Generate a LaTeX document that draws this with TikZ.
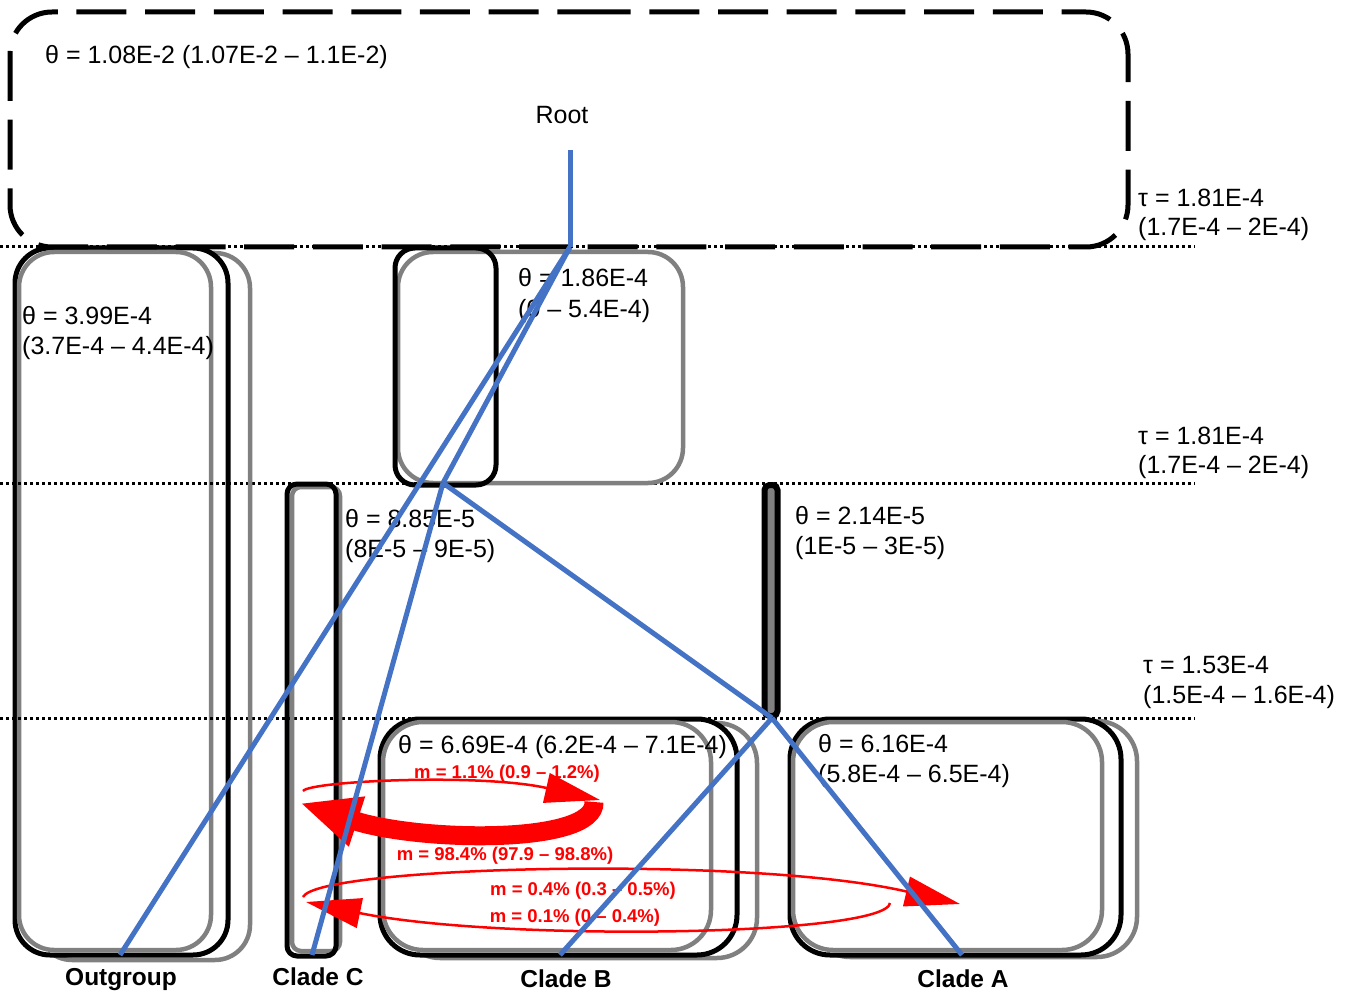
\documentclass[tikz,border=0pt]{standalone}
\usepackage{fontspec}
\setmainfont{Liberation Sans}
\usetikzlibrary{arrows.meta}
\definecolor{tblue}{HTML}{4472C4}
\definecolor{tgray}{HTML}{808080}
\definecolor{tred}{HTML}{FF0000}
\begin{document}
\begin{tikzpicture}[x=1pt,y=-1pt,
 dotline/.style={line width=3pt, dash pattern=on 3pt off 3pt, black},
 blk/.style={line width=5pt, black},
 gry/.style={line width=4.5pt, tgray},
 bline/.style={line width=5pt, tblue},
 lab/.style={font=\fontsize{25}{30}\selectfont, inner sep=0pt, anchor=base west},
 clab/.style={font=\fontsize{24.5}{29}\selectfont\bfseries, inner sep=0pt, anchor=base},
 mlab/.style={font=\fontsize{18.5}{22}\selectfont\bfseries, text=tred, inner sep=0pt, anchor=base},
 mthin/.style={line width=2.5pt, tred, -{Triangle[length=55pt,width=30pt]}},
 mthick/.style={line width=19pt, tred, -{Triangle[length=60pt,width=48pt]}},
]
\useasboundingbox (0,0) rectangle (1347,992);

% dotted time lines
\coordinate (dla) at (0,247);  \coordinate (dra) at (1195,247);
\coordinate (dlb) at (0,483);  \coordinate (drb) at (1195,483);
\coordinate (dlc) at (0,718);  \coordinate (drc) at (1195,718);
\draw[dotline] (dla) -- (dra);
\draw[dotline] (dlb) -- (drb);
\draw[dotline] (dlc) -- (drc);

% Outgroup boxes
\draw[gry, rounded corners=35pt] (37,253) rectangle (250,960);
\draw[blk, fill=white, rounded corners=35pt] (15,248) rectangle (228,955);
\draw[gry, rounded corners=35pt] (19,252) rectangle (211,950);
\coordinate (ogl1) at (18,483); \coordinate (ogr1) at (225,483);
\coordinate (ogl2) at (18,718); \coordinate (ogr2) at (225,718);
\draw[dotline] (ogl1) -- (ogr1);
\draw[dotline] (ogl2) -- (ogr2);

% B/C ancestor boxes
\draw[gry, rounded corners=35pt] (398,252) rectangle (683,483);
\draw[blk, rounded corners=20pt] (395,248) rectangle (496,485);

% Clade C boxes
\draw[gry, rounded corners=9pt] (292,487) rectangle (340,951);
\draw[blk, rounded corners=10pt] (287,484) rectangle (336,956);

% A/B ancestor bar
\draw[line width=6pt, black, fill=tgray, rounded corners=5pt] (764.5,485) rectangle (777.5,716);

% Clade B boxes
\draw[gry, rounded corners=40pt] (400,723) rectangle (757,958);
\draw[blk, fill=white, rounded corners=40pt] (380,719) rectangle (737,955);
\draw[gry, rounded corners=40pt] (383,722) rectangle (711,950);

% Clade A boxes
\draw[gry, rounded corners=40pt] (810,721) rectangle (1137,957);
\draw[blk, fill=white, rounded corners=40pt] (790,719) rectangle (1121,955);
\draw[gry, rounded corners=40pt] (793,722) rectangle (1102,950);

% Root population dashed box
\draw[line width=5pt, dash pattern=on 50pt off 18.7pt, dash phase=21.4pt, rounded corners=42pt]
  (560,12) -- (1128,12) -- (1128,247) -- (10,247) -- (10,12) -- cycle;

% migration arrows
\coordinate (a1s) at (303,791);  \coordinate (a1e) at (600,800);
\coordinate (a2s) at (594,802);  \coordinate (a2e) at (300,803);
\coordinate (a3s) at (303,897);  \coordinate (a3e) at (960,904);
\coordinate (a4s) at (890,903);  \coordinate (a4e) at (306,902);
\draw[mthin] (a1s) .. controls (310,781) and (480,773) .. (a1e);
\draw[mthick] (a2s) .. controls (596,845) and (420,842) .. (a2e);
\draw[mthin] (a3s) .. controls (318,866) and (750,855) .. (a3e);
\draw[mthin] (a4s) .. controls (886,936) and (500,942) .. (a4e);

\node[mlab] (m1) at (507,778) {m = 1.1\% (0.9 – 1.2\%)};
\node[mlab] (m2) at (505,860) {m = 98.4\% (97.9 – 98.8\%)};
\node[mlab] (m3) at (583,895) {m = 0.4\% (0.3 – 0.5\%)};
\node[mlab] (m4) at (575,922) {m = 0.1\% (0 – 0.4\%)};

% labels
\node[lab] (t0) at (45,64) {θ = 1.08E-2 (1.07E-2 – 1.1E-2)};
\node[lab, anchor=base] (rootlab) at (562,124) {Root};
\node[lab] (tau1a) at (1138,207) {τ = 1.81E-4};
\node[lab] (tau1b) at (1138,236) {(1.7E-4 – 2E-4)};
\node[lab] (tau2a) at (1138,444) {τ = 1.81E-4};
\node[lab] (tau2b) at (1138,473) {(1.7E-4 – 2E-4)};
\node[lab] (tau3a) at (1143,673) {τ = 1.53E-4};
\node[lab] (tau3b) at (1143,703) {(1.5E-4 – 1.6E-4)};
\node[lab] (tOa) at (22,325) {θ = 3.99E-4};
\node[lab] (tOb) at (22,355) {(3.7E-4 – 4.4E-4)};
\node[lab] (tBCa) at (518,287) {θ = 1.86E-4};
\node[lab] (tBCb) at (518,318) {(0 – 5.4E-4)};
\node[lab] (tCa) at (345,527) {θ = 8.85E-5};
\node[lab] (tCb) at (345,557) {(8E-5 – 9E-5)};
\node[lab] (tABa) at (795,524) {θ = 2.14E-5};
\node[lab] (tABb) at (795,554) {(1E-5 – 3E-5)};
\node[lab] (tB) at (398,753) {θ = 6.69E-4 (6.2E-4 – 7.1E-4)};
\node[lab] (tAa) at (818,752) {θ = 6.16E-4};
\node[lab] (tAb) at (818,782) {(5.8E-4 – 6.5E-4)};

\node[clab] (lO) at (121,985) {Outgroup};
\node[clab] (lC) at (318,985) {Clade C};
\node[clab] (lB) at (566,987) {Clade B};
\node[clab] (lA) at (963,987) {Clade A};

% tree (blue)
\coordinate (root) at (570,150);
\coordinate (n0) at (570,247);
\coordinate (n1) at (443,483);
\coordinate (n2) at (772,718);
\coordinate (og) at (120,955);
\coordinate (cC) at (312,955);
\coordinate (cB) at (560,955);
\coordinate (cA) at (962,955);
\draw[bline] (root) -- (n0);
\draw[bline] (n0) -- (og);
\draw[bline] (n0) -- (n1);
\draw[bline] (n1) -- (cC);
\draw[bline] (n1) -- (n2);
\draw[bline] (n2) -- (cB);
\draw[bline] (n2) -- (cA);
\end{tikzpicture}
\end{document}
